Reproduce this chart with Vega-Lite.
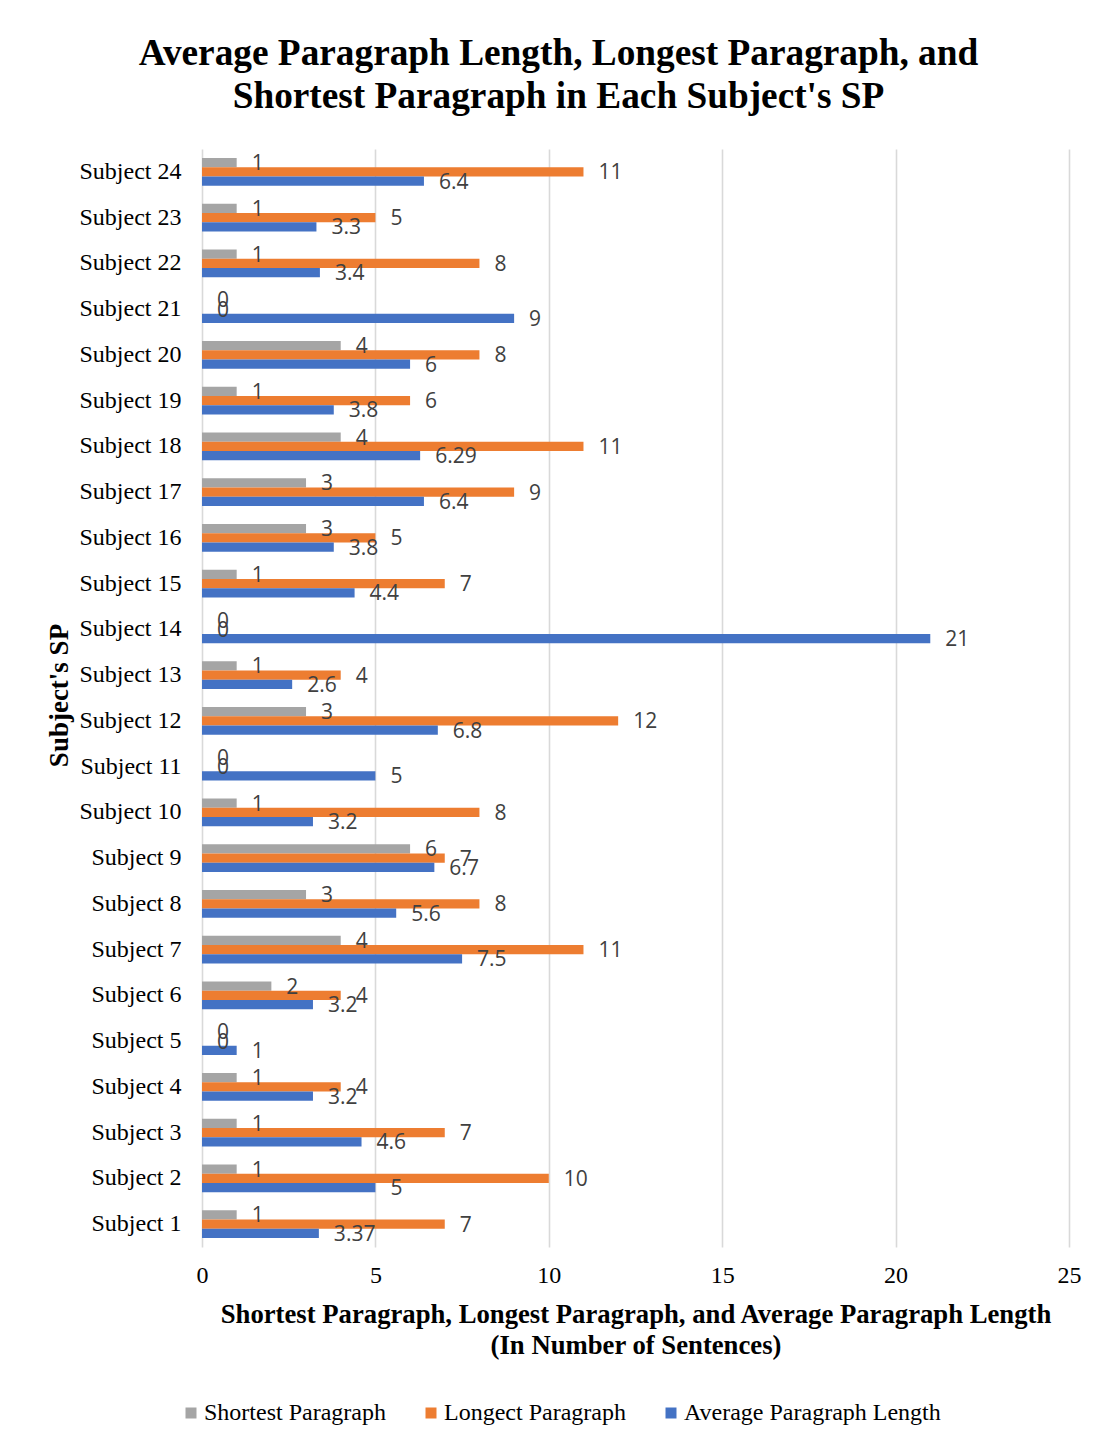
{
  "$schema": "https://vega.github.io/schema/vega-lite/v6.json",
  "autosize": "none",
  "width": 867,
  "height": 1098,
  "padding": {"left": 202, "top": 149, "right": 30, "bottom": 196},
  "background": "#ffffff",
  "title": {
    "text": ["Average Paragraph Length, Longest Paragraph, and", "Shortest Paragraph in Each Subject's SP"],
    "font": "Liberation Serif",
    "fontSize": 37.3,
    "fontWeight": "bold",
    "color": "#000000",
    "anchor": "middle",
    "frame": "group",
    "lineHeight": 43,
    "dx": -77,
    "offset": 33
  },
  "data": {
    "values": [
      {"subject": "Subject 24", "series": "Shortest Paragraph", "value": 1},
      {"subject": "Subject 24", "series": "Longect Paragraph", "value": 11},
      {"subject": "Subject 24", "series": "Average Paragraph Length", "value": 6.4},
      {"subject": "Subject 23", "series": "Shortest Paragraph", "value": 1},
      {"subject": "Subject 23", "series": "Longect Paragraph", "value": 5},
      {"subject": "Subject 23", "series": "Average Paragraph Length", "value": 3.3},
      {"subject": "Subject 22", "series": "Shortest Paragraph", "value": 1},
      {"subject": "Subject 22", "series": "Longect Paragraph", "value": 8},
      {"subject": "Subject 22", "series": "Average Paragraph Length", "value": 3.4},
      {"subject": "Subject 21", "series": "Shortest Paragraph", "value": 0},
      {"subject": "Subject 21", "series": "Longect Paragraph", "value": 0},
      {"subject": "Subject 21", "series": "Average Paragraph Length", "value": 9},
      {"subject": "Subject 20", "series": "Shortest Paragraph", "value": 4},
      {"subject": "Subject 20", "series": "Longect Paragraph", "value": 8},
      {"subject": "Subject 20", "series": "Average Paragraph Length", "value": 6},
      {"subject": "Subject 19", "series": "Shortest Paragraph", "value": 1},
      {"subject": "Subject 19", "series": "Longect Paragraph", "value": 6},
      {"subject": "Subject 19", "series": "Average Paragraph Length", "value": 3.8},
      {"subject": "Subject 18", "series": "Shortest Paragraph", "value": 4},
      {"subject": "Subject 18", "series": "Longect Paragraph", "value": 11},
      {"subject": "Subject 18", "series": "Average Paragraph Length", "value": 6.29},
      {"subject": "Subject 17", "series": "Shortest Paragraph", "value": 3},
      {"subject": "Subject 17", "series": "Longect Paragraph", "value": 9},
      {"subject": "Subject 17", "series": "Average Paragraph Length", "value": 6.4},
      {"subject": "Subject 16", "series": "Shortest Paragraph", "value": 3},
      {"subject": "Subject 16", "series": "Longect Paragraph", "value": 5},
      {"subject": "Subject 16", "series": "Average Paragraph Length", "value": 3.8},
      {"subject": "Subject 15", "series": "Shortest Paragraph", "value": 1},
      {"subject": "Subject 15", "series": "Longect Paragraph", "value": 7},
      {"subject": "Subject 15", "series": "Average Paragraph Length", "value": 4.4},
      {"subject": "Subject 14", "series": "Shortest Paragraph", "value": 0},
      {"subject": "Subject 14", "series": "Longect Paragraph", "value": 0},
      {"subject": "Subject 14", "series": "Average Paragraph Length", "value": 21},
      {"subject": "Subject 13", "series": "Shortest Paragraph", "value": 1},
      {"subject": "Subject 13", "series": "Longect Paragraph", "value": 4},
      {"subject": "Subject 13", "series": "Average Paragraph Length", "value": 2.6},
      {"subject": "Subject 12", "series": "Shortest Paragraph", "value": 3},
      {"subject": "Subject 12", "series": "Longect Paragraph", "value": 12},
      {"subject": "Subject 12", "series": "Average Paragraph Length", "value": 6.8},
      {"subject": "Subject 11", "series": "Shortest Paragraph", "value": 0},
      {"subject": "Subject 11", "series": "Longect Paragraph", "value": 0},
      {"subject": "Subject 11", "series": "Average Paragraph Length", "value": 5},
      {"subject": "Subject 10", "series": "Shortest Paragraph", "value": 1},
      {"subject": "Subject 10", "series": "Longect Paragraph", "value": 8},
      {"subject": "Subject 10", "series": "Average Paragraph Length", "value": 3.2},
      {"subject": "Subject 9", "series": "Shortest Paragraph", "value": 6},
      {"subject": "Subject 9", "series": "Longect Paragraph", "value": 7},
      {"subject": "Subject 9", "series": "Average Paragraph Length", "value": 6.7},
      {"subject": "Subject 8", "series": "Shortest Paragraph", "value": 3},
      {"subject": "Subject 8", "series": "Longect Paragraph", "value": 8},
      {"subject": "Subject 8", "series": "Average Paragraph Length", "value": 5.6},
      {"subject": "Subject 7", "series": "Shortest Paragraph", "value": 4},
      {"subject": "Subject 7", "series": "Longect Paragraph", "value": 11},
      {"subject": "Subject 7", "series": "Average Paragraph Length", "value": 7.5},
      {"subject": "Subject 6", "series": "Shortest Paragraph", "value": 2},
      {"subject": "Subject 6", "series": "Longect Paragraph", "value": 4},
      {"subject": "Subject 6", "series": "Average Paragraph Length", "value": 3.2},
      {"subject": "Subject 5", "series": "Shortest Paragraph", "value": 0},
      {"subject": "Subject 5", "series": "Longect Paragraph", "value": 0},
      {"subject": "Subject 5", "series": "Average Paragraph Length", "value": 1},
      {"subject": "Subject 4", "series": "Shortest Paragraph", "value": 1},
      {"subject": "Subject 4", "series": "Longect Paragraph", "value": 4},
      {"subject": "Subject 4", "series": "Average Paragraph Length", "value": 3.2},
      {"subject": "Subject 3", "series": "Shortest Paragraph", "value": 1},
      {"subject": "Subject 3", "series": "Longect Paragraph", "value": 7},
      {"subject": "Subject 3", "series": "Average Paragraph Length", "value": 4.6},
      {"subject": "Subject 2", "series": "Shortest Paragraph", "value": 1},
      {"subject": "Subject 2", "series": "Longect Paragraph", "value": 10},
      {"subject": "Subject 2", "series": "Average Paragraph Length", "value": 5},
      {"subject": "Subject 1", "series": "Shortest Paragraph", "value": 1},
      {"subject": "Subject 1", "series": "Longect Paragraph", "value": 7},
      {"subject": "Subject 1", "series": "Average Paragraph Length", "value": 3.37}
    ]
  },
  "encoding": {
    "y": {
      "field": "subject",
      "type": "nominal",
      "sort": ["Subject 24", "Subject 23", "Subject 22", "Subject 21", "Subject 20", "Subject 19", "Subject 18", "Subject 17", "Subject 16", "Subject 15", "Subject 14", "Subject 13", "Subject 12", "Subject 11", "Subject 10", "Subject 9", "Subject 8", "Subject 7", "Subject 6", "Subject 5", "Subject 4", "Subject 3", "Subject 2", "Subject 1"],
      "scale": {"paddingInner": 0.39, "paddingOuter": 0.195},
      "axis": {
        "title": "Subject's SP",
        "titleFont": "Liberation Serif",
        "titleFontSize": 27,
        "titleFontWeight": "bold",
        "titleColor": "#000000",
        "titleAngle": -90,
        "titleBaseline": "alphabetic",
        "titleAlign": "center",
        "titleX": -135,
        "titleY": 546,
        "labelFont": "Liberation Serif",
        "labelFontSize": 24,
        "labelColor": "#000000",
        "labelPadding": 21,
        "domain": false,
        "ticks": false,
        "grid": false
      }
    },
    "yOffset": {
      "field": "series",
      "type": "nominal",
      "sort": ["Shortest Paragraph", "Longect Paragraph", "Average Paragraph Length"]
    },
    "x": {
      "field": "value",
      "type": "quantitative",
      "scale": {"domain": [0, 25], "nice": false},
      "axis": {
        "values": [0, 5, 10, 15, 20, 25],
        "title": ["Shortest Paragraph, Longest Paragraph, and Average Paragraph Length", "(In Number of Sentences)"],
        "titleFont": "Liberation Serif",
        "titleFontSize": 26.7,
        "titleFontWeight": "bold",
        "titleColor": "#000000",
        "titleLineHeight": 31,
        "titleBaseline": "alphabetic",
        "titleY": 75,
        "labelFont": "Liberation Serif",
        "labelFontSize": 24,
        "labelColor": "#000000",
        "labelPadding": 16,
        "labelFlush": false,
        "labelOverlap": false,
        "domain": false,
        "ticks": false,
        "grid": true,
        "gridColor": "#d9d9d9",
        "gridWidth": 1.6
      }
    },
    "color": {
      "field": "series",
      "type": "nominal",
      "scale": {
        "domain": ["Shortest Paragraph", "Longect Paragraph", "Average Paragraph Length"],
        "range": ["#a5a5a5", "#ed7d31", "#4472c4"]
      },
      "legend": {
        "title": null,
        "orient": "none",
        "direction": "horizontal",
        "legendX": -23,
        "legendY": 1252,
        "symbolType": "square",
        "symbolSize": 121,
        "symbolStrokeWidth": 0,
        "labelFont": "Liberation Serif",
        "labelFontSize": 24,
        "labelColor": "#000000",
        "labelLimit": 0,
        "labelOffset": 1,
        "columnPadding": 33,
        "padding": 0
      }
    }
  },
  "layer": [
    {"mark": {"type": "bar"}},
    {
      "mark": {
        "type": "text",
        "align": "left",
        "baseline": "middle",
        "dx": 15,
        "dy": 1.5,
        "font": "Open Sans",
        "fontSize": 21,
        "color": "#404040"
      },
      "encoding": {
        "text": {"field": "value", "type": "quantitative"},
        "color": {"value": "#404040"}
      }
    }
  ],
  "config": {
    "view": {"stroke": null}
  }
}
